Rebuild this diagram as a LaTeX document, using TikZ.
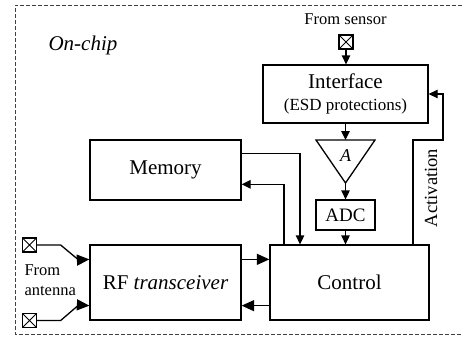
\documentclass[tikz,border=0pt]{standalone}
\usepackage{fontspec}
\setmainfont{Liberation Serif}
\usetikzlibrary{arrows.meta}
\usetikzlibrary{calc}

\begin{document}
\begin{tikzpicture}
[x=1pt,y=-1pt,
every node/.style={font=\fontsize{21}{24}\selectfont},
  small/.style = {font=\fontsize{16.5}{20}\selectfont},
  blk/.style = {rectangle,draw,line width=1.3pt,inner sep=0pt},
  wire/.style = {line width=1.3pt},
  arrow/.style = {wire,-{Triangle[length=9pt,width=8.5pt]}},
  bigarrow/.style = {wire,-{Triangle[length=12.5pt,width=11pt]}},
  pad/.style = {rectangle,draw,line width=1.3pt,minimum size=14pt,inner sep=0pt,
        path picture={\draw[line width=1pt]
          (path picture bounding box.north west) -- (path picture bounding box.south east)
          (path picture bounding box.south west) -- (path picture bounding box.north east);}}]
\useasboundingbox (0,0) rectangle (462,337);

% chip outline (right side is off the picture)
\draw[black!75,line width=0.7pt,dash pattern=on 4pt off 2pt]
  (462,5) -- (15,5) -- (15,334) -- (462,334);
\node[anchor=west,font=\fontsize{21}{24}\selectfont\itshape] (onchip) at (45,45) {On-chip};

% blocks
\node[blk,minimum width=165pt,minimum height=58pt,align=center] (interface) at (345.5,94)
  {Interface\\[-2pt]{\fontsize{17}{20}\selectfont (ESD protections)}};
\node[blk,minimum width=151pt,minimum height=60pt] (memory) at (165.5,170) {Memory};
\node[blk,minimum width=59pt,minimum height=30pt,font=\fontsize{19}{22}\selectfont] (adc) at (345.5,215) {ADC};
\node[blk,minimum width=159pt,minimum height=75pt] (control) at (349.5,282.5) {Control};
\node[blk,minimum width=151pt,minimum height=75pt] (rf) at (165.5,282.5) {RF \textit{transceiver}};

% amplifier
\coordinate (amp-in) at (345.5,140);
\coordinate (amp-out) at (345.5,183);
\draw[wire,line join=miter] (316,140) -- (375,140) -- (amp-out) -- cycle;
\node[font=\fontsize{18}{20}\selectfont\itshape] (amp) at (345.5,156) {A};

% pads
\node[pad] (pad-sensor) at (346,42) {};
\node[small] (sensor-text) at (345.5,19) {From sensor};
\node[pad] (pad-ant-top) at (29.5,245) {};
\node[pad] (pad-ant-bot) at (29.5,320.5) {};
\node[small,anchor=west,align=left] (ant-text) at (21,280) {From\\antenna};

% signal path
\draw[arrow] (pad-sensor.south) -- (interface.north -| pad-sensor.south);
\draw[arrow] (interface.south) -- (amp-in);
\draw[arrow] (amp-out) -- (adc.north);
\draw[arrow] (adc.south) -- (adc.south |- control.north);

% memory
\draw[arrow] ([yshift=-14pt]memory.north east) -| ([xshift=-49.5pt]control.north);
\draw[arrow] ([xshift=-65.5pt]control.north) |- ([yshift=-45pt]memory.north east);

% activation
\coordinate (act-turn) at (443,140);
\draw[arrow] ([xshift=63.5pt]control.north) |- (act-turn) |- (interface.east);
\node[rotate=90,font=\fontsize{18.5}{20}\selectfont] (act-text) at (431,188) {Activation};

% RF link
\draw[bigarrow] ([yshift=-15pt]rf.north east) -- ([yshift=-15pt]control.north west);
\draw[bigarrow] ([yshift=15pt]control.south west) -- ([yshift=15pt]rf.south east);
\draw[bigarrow] (pad-ant-top.east) -- ++(23.5,0) -- ++(18,15) -- ([yshift=-15pt]rf.north west);
\draw[bigarrow] (pad-ant-bot.east) -- ++(23.5,0) -- ++(18,-15.5) -- ([yshift=15pt]rf.south west);
\end{tikzpicture}
\end{document}
